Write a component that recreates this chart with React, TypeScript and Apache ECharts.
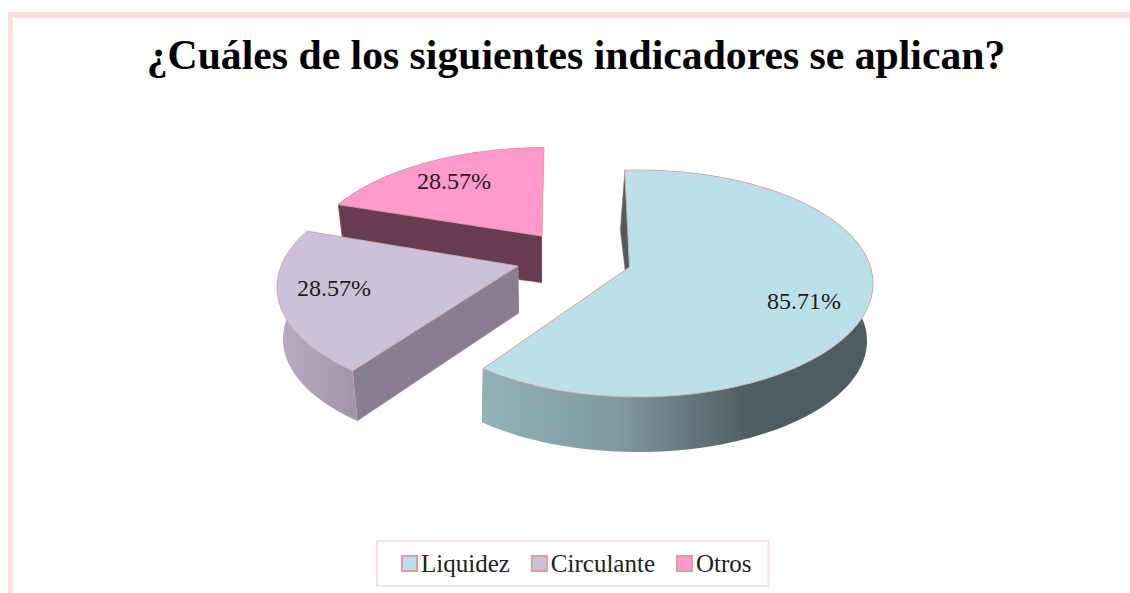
import React, { useEffect, useRef } from "react";
import * as echarts from "echarts";

const titleText = "¿Cuáles de los siguientes indicadores se aplican?";
const categories = ["Liquidez", "Circulante", "Otros"];
const percentValues = [85.71, 28.57, 28.57];

const colors = ["#bce0e9", "#ccc1da", "#fe99cc"];
const edge = "#dc9f9e";

type Disc = { cx: number; cy: number; rx: number; ry: number; ax: number; ay: number; rot: number };
type Look = {
  top: Disc;
  bottom: Disc;
  startWall: string;
  endWall: string;
  outer: { offset: number; color: string }[];
  label: [number, number];
};

const looks: Look[] = [
  {
    top: { cx: 638, cy: 283.5, rx: 235, ry: 113.5, ax: 629.5, ay: 267, rot: -1.5 },
    bottom: { cx: 638, cy: 341, rx: 229, ry: 111, ax: 630, ay: 314, rot: -3.4 },
    startWall: "#4f5d60",
    endWall: "#4f5d60",
    outer: [
      { offset: 0, color: "#90b2b8" },
      { offset: 0.35, color: "#7f9a9f" },
      { offset: 0.68, color: "#4f5d60" },
      { offset: 1, color: "#4f5d60" },
    ],
    label: [804, 301],
  },
  {
    top: { cx: 512, cy: 287, rx: 235, ry: 114, ax: 518, ay: 266, rot: 1 },
    bottom: { cx: 512, cy: 339, rx: 229, ry: 111, ax: 519, ay: 313, rot: -0.7 },
    startWall: "#887d91",
    endWall: "#887d91",
    outer: [
      { offset: 0, color: "#b7acc4" },
      { offset: 0.6, color: "#a99eb5" },
      { offset: 1, color: "#a094ab" },
    ],
    label: [334, 288],
  },
  {
    top: { cx: 546, cy: 261.5, rx: 240, ry: 114, ax: 542, ay: 236, rot: 0.5 },
    bottom: { cx: 543, cy: 315, rx: 235, ry: 111, ax: 542, ay: 283, rot: -1 },
    startWall: "#693b53",
    endWall: "#e58fbb",
    outer: [
      { offset: 0, color: "#693b53" },
      { offset: 1, color: "#693b53" },
    ],
    label: [454, 181],
  },
];

// Perspective map of the pie's circle onto an ellipse, with the pie's centre at the apex.
function rim(d: Disc, deg: number): number[] {
  const t = ((deg + d.rot) * Math.PI) / 180;
  const x = Math.sin(t);
  const y = -Math.cos(t);
  const a = (d.ax - d.cx) / d.rx;
  const b = (d.ay - d.cy) / d.ry;
  const n2 = a * a + b * b;
  const dot = a * x + b * y;
  const g = Math.sqrt(1 - n2);
  const px = (a * dot) / n2;
  const py = (b * dot) / n2;
  const u = (a + px + (x - px) * g) / (1 + dot);
  const v = (b + py + (y - py) * g) / (1 + dot);
  return [d.cx + u * d.rx, d.cy + v * d.ry];
}

function arc(d: Disc, from: number, to: number): number[][] {
  const pts: number[][] = [];
  const n = Math.max(8, Math.ceil(Math.abs(to - from) / 1.5));
  for (let i = 0; i <= n; i++) pts.push(rim(d, from + ((to - from) * i) / n));
  return pts;
}

const total = percentValues.reduce((s, v) => s + v, 0);

function sliceRenderer(index: number) {
  return (_params: any, api: any) => {
    const look = looks[index];
    const before = percentValues.slice(0, index).reduce((s, v) => s + v, 0);
    const value = api.value(0) as number;
    const a0 = (before / total) * 360;
    const a1 = ((before + value) / total) * 360;
    const poly = (points: number[][], fill: any, lineWidth = 0.7) => ({
      type: "polygon",
      silent: true,
      shape: { points },
      style: { fill, stroke: lineWidth ? edge : "none", lineWidth, opacity: 1 },
    });
    const { top, bottom } = look;
    const wall = (deg: number) => [[top.ax, top.ay], rim(top, deg), rim(bottom, deg), [bottom.ax, bottom.ay]];
    return {
      type: "group",
      children: [
        poly(wall(a1), look.endWall, 0),
        poly(
          [...arc(top, a0, a1), ...arc(bottom, a1, a0)],
          new echarts.graphic.LinearGradient(0, 0, 1, 0, look.outer),
          0
        ),
        poly(wall(a0), look.startWall, 0.4),
        poly([[top.ax, top.ay], ...arc(top, a0, a1)], colors[index], 0.8),
        {
          type: "text",
          silent: true,
          x: look.label[0],
          y: look.label[1],
          style: {
            text: value.toFixed(2) + "%",
            fill: "#1c1c1c",
            font: '24px "Liberation Serif"',
            align: "center",
            verticalAlign: "middle",
          },
        },
      ],
    };
  };
}

export default function App() {
  const ref = useRef<HTMLDivElement>(null);
  useEffect(() => {
    document.body.style.margin = "0";
    document.body.style.overflow = "hidden";
    const chart = echarts.init(ref.current!, null, { renderer: "svg" });
    chart.setOption({
      animation: false,
      backgroundColor: "#ffffff",
      title: {
        text: titleText,
        left: 571,
        top: 29,
        textAlign: "center",
        textStyle: { fontFamily: "Liberation Serif", fontWeight: "bold", fontSize: 41.7, color: "#000000" },
      },
      legend: {
        left: 377,
        top: 541,
        orient: "horizontal",
        padding: [10, 17, 10, 24],
        borderColor: "#f8e0df",
        borderWidth: 2,
        itemWidth: 15,
        itemHeight: 15,
        itemGap: 21,
        textStyle: { fontFamily: "Liberation Serif", fontSize: 25, color: "#222222", padding: [0, 0, 0, -1] },
        data: categories.map((name, i) => ({
          name,
          icon: "rect",
          itemStyle: { color: colors[i], borderColor: "#e09c9c", borderWidth: 2 },
        })),
      },
      graphic: [
        { type: "rect", silent: true, shape: { x: 8, y: 12, width: 1122, height: 6 }, style: { fill: "#f8e0df" } },
        { type: "rect", silent: true, shape: { x: 8, y: 12, width: 5, height: 581 }, style: { fill: "#f8e0df" } },
      ],
      series: [2, 1, 0].map((i) => ({
        type: "custom",
        name: categories[i],
        coordinateSystem: "none",
        silent: true,
        z: 3 - i,
        itemStyle: { color: colors[i] },
        data: [[percentValues[i]]],
        renderItem: sliceRenderer(i),
      })),
    });
    return () => chart.dispose();
  }, []);
  return <div ref={ref} style={{ width: 1130, height: 593 }} />;
}
